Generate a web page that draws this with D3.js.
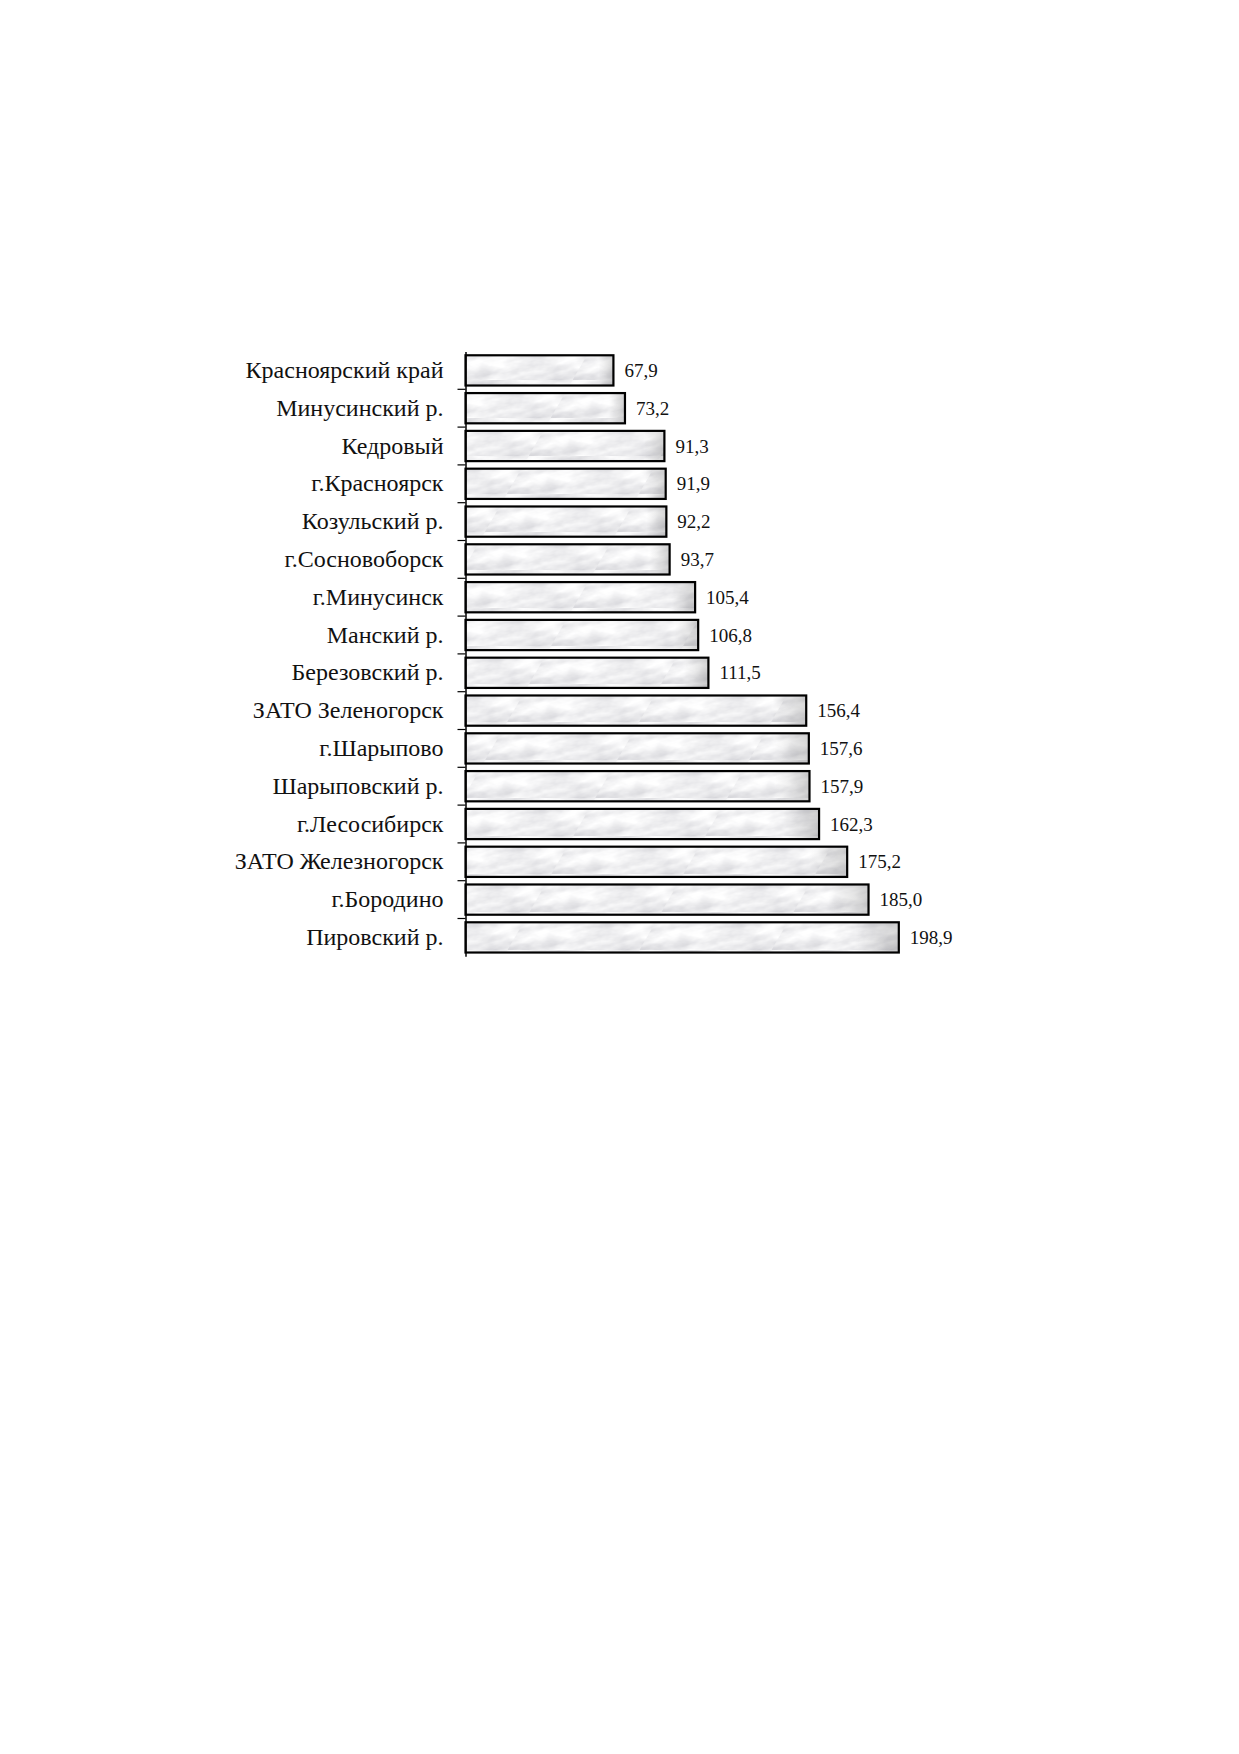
<!DOCTYPE html>
<html>
<head>
<meta charset="utf-8">
<script src="https://cdn.jsdelivr.net/npm/d3@7"></script>
<style>
  body { margin: 0; background: #fff; }
  .label text { font-family: "Liberation Serif", "Times New Roman", serif; font-size: 24px; fill: #111; }
  .value { font-family: "Liberation Serif", "Times New Roman", serif; font-size: 19px; fill: #111; }
</style>
</head>
<body>
<script>
//chart data, top to bottom
var categories = ["Красноярский край", "Минусинский р.", "Кедровый", "г.Красноярск", "Козульский р.",
    "г.Сосновоборск", "г.Минусинск", "Манский р.", "Березовский р.", "ЗАТО Зеленогорск",
    "г.Шарыпово", "Шарыповский р.", "г.Лесосибирск", "ЗАТО Железногорск", "г.Бородино", "Пировский р."];
var values = [67.9, 73.2, 91.3, 91.9, 92.2, 93.7, 105.4, 106.8, 111.5, 156.4, 157.6, 157.9, 162.3, 175.2, 185.0, 198.9];
var valueLabels = ["67,9", "73,2", "91,3", "91,9", "92,2", "93,7", "105,4", "106,8", "111,5", "156,4",
    "157,6", "157,9", "162,3", "175,2", "185,0", "198,9"];

(function(){
    var width = 1239,
        height = 1754;

    var svg = d3.select("body").append("svg")
        .attr("width", width)
        .attr("height", height);

    svg.append("rect").attr("width", width).attr("height", height).attr("fill", "#fff");

    //marble-like fill for the bars
    var defs = svg.append("defs");
    var filter = defs.append("filter").attr("id", "marbleNoise")
        .attr("x", 0).attr("y", 0).attr("width", 1).attr("height", 1);
    filter.append("feTurbulence")
        .attr("type", "fractalNoise")
        .attr("baseFrequency", "0.03 0.07")
        .attr("numOctaves", 4)
        .attr("seed", 11);
    filter.append("feColorMatrix")
        .attr("type", "matrix")
        .attr("values", "0.55 0 0 0 0.58  0.55 0 0 0 0.58  0.5 0 0 0 0.62  0 0 0 0 1");

    var pattern = defs.append("pattern").attr("id", "marble")
        .attr("patternUnits", "userSpaceOnUse")
        .attr("width", 132).attr("height", 38)
        .attr("patternTransform", "skewX(-30)");
    pattern.append("rect")
        .attr("width", 132).attr("height", 38)
        .attr("filter", "url(#marbleNoise)");

    var shade = defs.append("linearGradient").attr("id", "shade")
        .attr("x1", "0").attr("x2", "1").attr("y1", "0").attr("y2", "0");
    shade.append("stop").attr("offset", "0").attr("stop-color", "#000").attr("stop-opacity", 0);
    shade.append("stop").attr("offset", "0.9").attr("stop-color", "#000").attr("stop-opacity", 0);
    shade.append("stop").attr("offset", "1").attr("stop-color", "#000").attr("stop-opacity", 0.16);

    //scales
    var x = d3.scaleLinear()
        .domain([0, 200])
        .range([465.5, 901.2]);

    var y = d3.scaleBand()
        .domain(categories)
        .range([351.5, 956.3])
        .paddingInner(0.2)
        .paddingOuter(0.1);

    //bars
    svg.selectAll(".bar")
        .data(values)
        .enter()
        .append("rect")
        .attr("class", "bar")
        .attr("x", x(0))
        .attr("y", function(d, i){ return y(categories[i]); })
        .attr("width", function(d){ return x(d) - x(0); })
        .attr("height", y.bandwidth())
        .attr("fill", "url(#marble)");

    svg.selectAll(".barShade")
        .data(values)
        .enter()
        .append("rect")
        .attr("class", "barShade")
        .attr("x", x(0))
        .attr("y", function(d, i){ return y(categories[i]); })
        .attr("width", function(d){ return x(d) - x(0); })
        .attr("height", y.bandwidth())
        .attr("fill", "url(#shade)")
        .attr("stroke", "#000")
        .attr("stroke-width", 2.2);

    //value labels
    svg.selectAll(".value")
        .data(values)
        .enter()
        .append("text")
        .attr("class", "value")
        .attr("x", function(d){ return x(d) + 11; })
        .attr("y", function(d, i){ return y(categories[i]) + y.bandwidth() / 2; })
        .attr("dy", "0.35em")
        .text(function(d, i){ return valueLabels[i]; });

    //category axis
    var axis = svg.append("g")
        .attr("class", "label")
        .attr("transform", "translate(" + x(0) + ",0)")
        .call(d3.axisLeft(y).tickSize(0).tickSizeOuter(0).tickPadding(22));
    axis.select(".domain").attr("stroke", "#000").attr("stroke-width", 1.5);
    axis.selectAll("text").attr("font-family", null).attr("font-size", null);

    //small ticks between the categories
    var step = y.step();
    svg.selectAll(".sep")
        .data(categories.slice(1))
        .enter()
        .append("line")
        .attr("class", "sep")
        .attr("x1", x(0) - 8)
        .attr("x2", x(0))
        .attr("y1", function(d){ return y(d) - step * y.paddingInner() / 2; })
        .attr("y2", function(d){ return y(d) - step * y.paddingInner() / 2; })
        .attr("stroke", "#000")
        .attr("stroke-width", 1.2);
})();
</script>
</body>
</html>
